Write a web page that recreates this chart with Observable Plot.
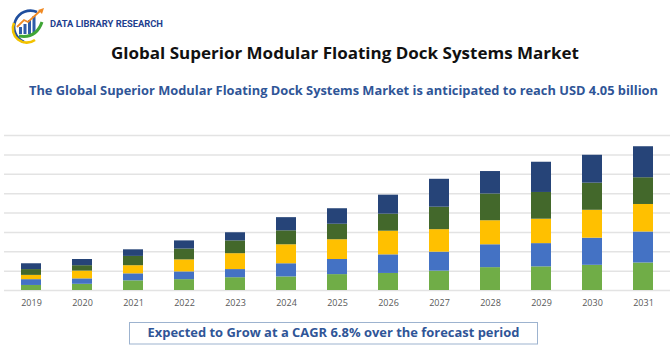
<!DOCTYPE html>
<html>
<head>
<meta charset="utf-8">
<script src="https://cdn.jsdelivr.net/npm/d3@7"></script>
<script src="https://cdn.jsdelivr.net/npm/@observablehq/plot@0.6"></script>
<style>
  html, body { margin: 0; padding: 0; background: #fff; }
  #wrap { position: relative; width: 670px; height: 350px; overflow: hidden; font-family: "Open Sans", "Liberation Sans", sans-serif; }
  #deco { position: absolute; left: 0; top: 0; }
  #chart { position: absolute; left: 0; top: 100px; }
</style>
</head>
<body>
<div id="wrap">
  <div id="chart"></div>
  <svg id="deco" width="670" height="350" viewBox="0 0 670 350">
    <!-- logo emblem -->
    <path d="M37 12 A16 16 0 1 0 24 42" fill="none" stroke="#1F4E9D" stroke-width="2.6"/>
    <path d="M14 23 A14 14 0 0 0 35 40" fill="none" stroke="#F2C200" stroke-width="2.6"/>
    <rect x="19" y="27" width="3" height="7" fill="#2F5CA8"/>
    <rect x="23.5" y="24" width="3" height="10" fill="#2F5CA8"/>
    <rect x="28" y="20" width="3" height="14" fill="#2F5CA8"/>
    <rect x="32.5" y="16" width="3" height="18" fill="#2F5CA8"/>
    <path d="M19 36 Q36 39 42 22" fill="none" stroke="#3FA535" stroke-width="3"/>
    <polyline points="17,27 24,20 28,22 40,11" fill="none" stroke="#F08A24" stroke-width="1.8"/>
    <polygon points="44,8 38,10 42,14" fill="#F08A24"/>
    <text x="50" y="27.3" font-size="9.3" font-weight="bold" fill="#1F3F8F" textLength="113" lengthAdjust="spacingAndGlyphs" font-family="Roboto, 'Open Sans', sans-serif">DATA LIBRARY RESEARCH</text>
    <!-- title / subtitle -->
    <text x="345" y="59" text-anchor="middle" font-size="16" font-weight="bold" fill="#111" textLength="468" lengthAdjust="spacingAndGlyphs">Global Superior Modular Floating Dock Systems Market</text>
    <text x="343.5" y="95" text-anchor="middle" font-size="12" font-weight="bold" fill="#2F5597" textLength="629" lengthAdjust="spacingAndGlyphs">The Global Superior Modular Floating Dock Systems Market is anticipated to reach USD 4.05 billion</text>
    <!-- footer box -->
    <rect x="129.5" y="322.5" width="408" height="21.5" fill="#fff" stroke="#9DB3CF" stroke-width="1"/>
    <text x="333.5" y="336.5" text-anchor="middle" font-size="11.5" font-weight="bold" fill="#2F5597" textLength="372" lengthAdjust="spacingAndGlyphs">Expected to Grow at a CAGR 6.8% over the forecast period</text>
  </svg>
</div>
<script>
const years = ["2019","2020","2021","2022","2023","2024","2025","2026","2027","2028","2029","2030","2031"];
const series = ["Segment 1","Segment 2","Segment 3","Segment 4","Segment 5"];
const colors = ["#70AD47","#4472C4","#FFC000","#43682B","#264478"];
const seg1 = [0.13,0.16,0.25,0.28,0.33,0.35,0.41,0.44,0.50,0.59,0.61,0.65,0.71];
const seg2 = [0.15,0.14,0.18,0.20,0.21,0.34,0.39,0.48,0.49,0.59,0.60,0.70,0.80];
const seg3 = [0.11,0.20,0.21,0.31,0.41,0.49,0.51,0.61,0.58,0.62,0.63,0.72,0.71];
const seg4 = [0.15,0.14,0.24,0.28,0.33,0.36,0.40,0.44,0.58,0.69,0.69,0.70,0.69];
const seg5 = [0.15,0.16,0.17,0.21,0.21,0.34,0.40,0.49,0.72,0.58,0.78,0.72,0.80];
const gridValues = [0,0.5,1,1.5,2,2.5,3,3.5,4];

const segValues = [seg1, seg2, seg3, seg4, seg5];
const rows = [];
years.forEach((yr, i) => {
  series.forEach((s, j) => rows.push({year: yr, series: s, value: segValues[j][i]}));
});

const chart = Plot.plot({
  width: 670,
  height: 210,
  marginLeft: 4,
  marginRight: 0,
  marginTop: 35,
  marginBottom: 20,
  style: {fontFamily: "'Open Sans', 'Liberation Sans', sans-serif", fontSize: "9px", background: "transparent"},
  x: {domain: years, paddingInner: 0.6, paddingOuter: 0.3, label: null},
  y: {domain: [0, 4], axis: null},
  color: {domain: series, range: colors},
  marks: [
    Plot.ruleY(gridValues, {stroke: "#e3e3e3", strokeWidth: 1.5}),
    Plot.barY(rows, {x: "year", y: "value", fill: "series", order: series}),
    Plot.axisX({tickSize: 0, tickPadding: 9, fontSize: 9, color: "#595959", label: null})
  ]
});
document.getElementById("chart").appendChild(chart);
</script>
</body>
</html>
